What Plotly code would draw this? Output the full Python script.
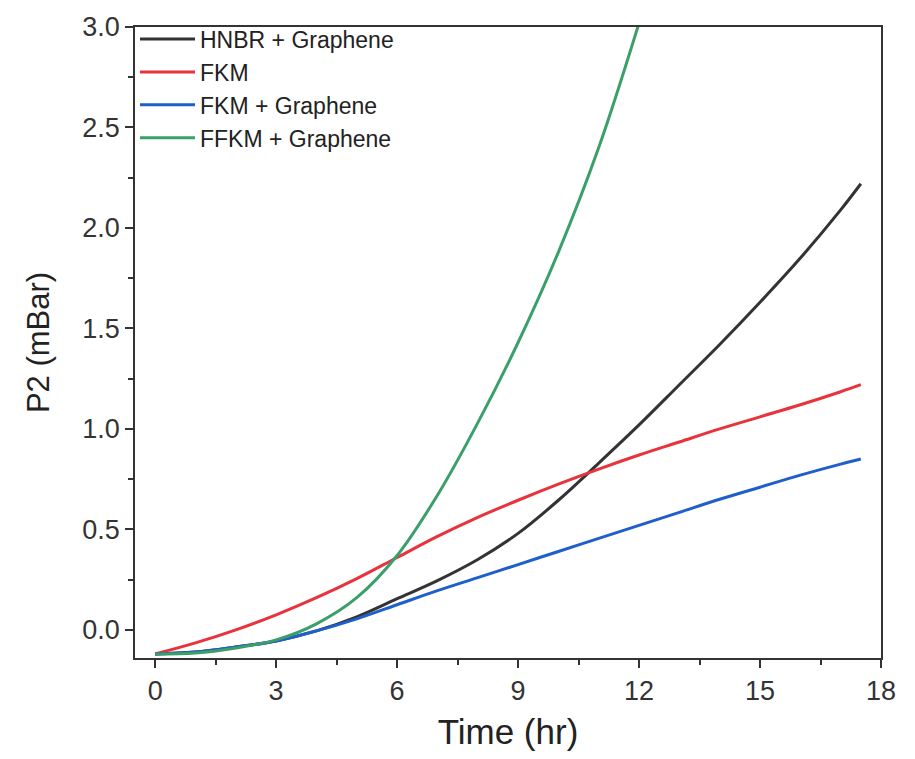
import plotly.graph_objects as go

# Time (hr)
time_hr = [0, 1, 2, 3, 4, 5, 6, 7, 8, 9, 10, 11, 12, 13, 14, 15, 16, 17, 17.5]

hnbr_graphene = [-0.12, -0.11, -0.085, -0.055, -0.005, 0.065, 0.155, 0.245, 0.35, 0.48, 0.645, 0.83, 1.02, 1.22, 1.42, 1.63, 1.85, 2.09, 2.22]
fkm = [-0.12, -0.065, 0.0, 0.075, 0.16, 0.255, 0.36, 0.465, 0.56, 0.645, 0.725, 0.80, 0.87, 0.935, 1.00, 1.06, 1.12, 1.185, 1.22]
fkm_graphene = [-0.12, -0.11, -0.085, -0.055, -0.005, 0.055, 0.125, 0.195, 0.26, 0.325, 0.39, 0.455, 0.52, 0.585, 0.65, 0.71, 0.77, 0.825, 0.85]

time_ffkm = [0, 1, 2, 3, 4, 5, 6, 7, 8, 9, 10, 11, 12]
ffkm_graphene = [-0.12, -0.115, -0.09, -0.05, 0.03, 0.16, 0.37, 0.67, 1.03, 1.43, 1.88, 2.4, 3.02]

series = [
    ("HNBR + Graphene", time_hr, hnbr_graphene, "#333333"),
    ("FKM", time_hr, fkm, "#e8323c"),
    ("FKM + Graphene", time_hr, fkm_graphene, "#1f5fcc"),
    ("FFKM + Graphene", time_ffkm, ffkm_graphene, "#3a9f68"),
]

fig = go.Figure()
for name, x, y, color in series:
    fig.add_trace(go.Scatter(x=x, y=y, mode="lines", name=name,
                             line=dict(color=color, width=3, shape="spline", smoothing=1.0)))

font_family = "Arial, Liberation Sans, sans-serif"
axis_common = dict(
    showline=True, linecolor="#333333", linewidth=1.5, mirror=True,
    ticks="outside", ticklen=8, tickwidth=1.5, tickcolor="#333333",
    showgrid=False, zeroline=False, automargin=False,
    tickfont=dict(family=font_family, size=27, color="#333333"),
)

fig.update_xaxes(
    range=[-0.5, 18], tick0=0, dtick=3,
    minor=dict(ticks="outside", ticklen=5, tickwidth=1.5, tickcolor="#333333", dtick=1.5, tick0=0, showgrid=False),
    title=dict(text="Time (hr)", font=dict(family=font_family, size=35, color="#222222"), standoff=24),
    **axis_common,
)
fig.update_yaxes(
    range=[-0.14, 3.0], tick0=0, dtick=0.5, tickformat=".1f",
    minor=dict(ticks="outside", ticklen=5, tickwidth=1.5, tickcolor="#333333", dtick=0.25, tick0=0, showgrid=False),
    title=dict(text="P2 (mBar)", font=dict(family=font_family, size=31, color="#222222"), standoff=23),
    **axis_common,
)

fig.update_layout(
    width=907, height=743,
    margin=dict(l=127, r=34, t=10, b=93),
    paper_bgcolor="white", plot_bgcolor="white",
    showlegend=True,
    legend=dict(x=0.0, y=1.015, xanchor="left", yanchor="top",
                bgcolor="rgba(0,0,0,0)", borderwidth=0,
                font=dict(family=font_family, size=23, color="#222222"),
                itemwidth=55, tracegroupgap=0),
)

fig.write_html("out.html")
